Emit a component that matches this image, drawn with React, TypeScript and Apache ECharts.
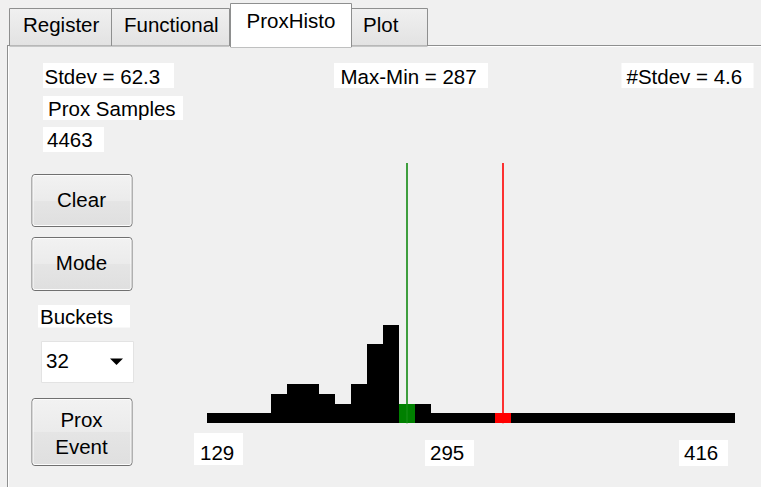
import React, { useEffect, useRef } from "react";
import * as echarts from "echarts";

// ---- data ----
const bucketNames = ["0","1","2","3","4","5","6","7","8","9","10","11","12","13","14","15","16","17","18","19","20","21","22","23","24","25","26","27","28","29","30","31","32"];
const bucketCounts = [0,0,0,0,273,420,420,273,133,420,990,1268,133,133,0,0,0,0,0,0,0,0,0,0,0,0,0,0,0,0,0,0,0];
const modeBucket = 12;
const markerBucket = 18;
const baseCount = 144;
const yMax = 3740;
const tickLabels = ["129", "295", "416"];
const tabNames = ["Register", "Functional", "ProxHisto", "Plot"];
const statTexts = ["Stdev = 62.3", "Max-Min = 287", "#Stdev = 4.6"];
const sampleLabel = "Prox Samples";
const sampleCount = "4463";
const bucketsLabel = "Buckets";
const bucketsSetting = "32";
const buttonLabels = ["Clear", "Mode", "Prox\nEvent"];

const FONT_FAMILY = '"Liberation Sans", Arial, sans-serif';
const FS = 20.5;
const font = `${FS}px ${FONT_FAMILY}`;

function txt(text: string, x: number, y: number, align: string = "left", z = 20) {
  return {
    type: "text",
    x,
    y,
    z,
    silent: true,
    style: { text, fill: "#000", font, textAlign: align, textVerticalAlign: "middle" },
  };
}

function whiteBox(x: number, y: number, w: number, h: number) {
  return { type: "rect", z: 15, silent: true, shape: { x, y, width: w, height: h }, style: { fill: "#ffffff" } };
}

function button(x: number, y: number, w: number, h: number, label: string, cy: number[]) {
  const els: any[] = [
    {
      type: "rect",
      z: 12,
      shape: { x: x + 0.5, y: y + 0.5, width: w, height: h, r: 3 },
      style: {
        fill: {
          type: "linear", x: 0, y: 0, x2: 0, y2: 1,
          colorStops: [
            { offset: 0, color: "#f2f2f2" },
            { offset: 0.5, color: "#ebebeb" },
            { offset: 0.5, color: "#e5e5e5" },
            { offset: 1, color: "#dfdfdf" },
          ],
        },
        stroke: "#707070",
        lineWidth: 1,
      },
    },
    {
      type: "rect",
      z: 13,
      shape: { x: x + 1.5, y: y + 1.5, width: w - 2, height: h - 2, r: 2 },
      style: { fill: "none", stroke: "#fcfcfc", lineWidth: 1 },
    },
  ];
  const lines = label.split("\n");
  lines.forEach((ln, i) => els.push(txt(ln, x + w / 2, cy[i], "center")));
  return els;
}

function tab(x: number, y: number, w: number, h: number, active: boolean) {
  return {
    type: "rect",
    z: active ? 9 : 8,
    shape: { x: x + 0.5, y: y + 0.5, width: w, height: h },
    style: {
      fill: active
        ? "#ffffff"
        : {
            type: "linear", x: 0, y: 0, x2: 0, y2: 1,
            colorStops: [
              { offset: 0, color: "#f0f0f0" },
              { offset: 1, color: "#e2e2e2" },
            ],
          },
      stroke: "#8e8f8f",
      lineWidth: 1,
    },
  };
}

function barColor(i: number, isBase: boolean) {
  if (i === modeBucket) return "#008000";
  if (isBase && i === markerBucket) return "#ff0000";
  return "#000000";
}

export default function App() {
  const ref = useRef<HTMLDivElement>(null);
  useEffect(() => {
    if (!ref.current) return;
    const chart = echarts.init(ref.current, undefined, { renderer: "svg" });

    const histData = bucketCounts.map((v, i) => [i, v]);

    const renderItem = (params: any, api: any) => {
      const i = api.value(0);
      const v = api.value(1);
      const bw = api.size([1, 0])[0];
      const c0 = api.coord([i, 0]);
      const cb = api.coord([i, baseCount]);
      const ct = api.coord([i, baseCount + v]);
      const x0 = Math.round(c0[0] - bw / 2);
      const x1 = Math.round(c0[0] + bw / 2);
      const y0 = Math.round(c0[1]);
      const yb = Math.round(cb[1]);
      const yt = Math.round(ct[1]);
      const children: any[] = [
        {
          type: "rect",
          shape: { x: x0, y: yb, width: x1 - x0, height: y0 - yb },
          style: { fill: barColor(i, true) },
        },
      ];
      if (v > 0) {
        children.push({
          type: "rect",
          shape: { x: x0, y: yt, width: x1 - x0, height: yb - yt + 0.5 },
          style: { fill: barColor(i, false) },
        });
      }
      return { type: "group", children };
    };

    const graphic: any[] = [];
    // panel frame
    graphic.push({ type: "line", z: 5, shape: { x1: 7.5, y1: 45.5, x2: 7.5, y2: 487 }, style: { stroke: "#8e8f8f", lineWidth: 1 } });
    graphic.push({ type: "line", z: 5, shape: { x1: 7, y1: 45.5, x2: 761, y2: 45.5 }, style: { stroke: "#8e8f8f", lineWidth: 1 } });
    graphic.push({ type: "line", z: 5, shape: { x1: 8.5, y1: 46.5, x2: 761, y2: 46.5 }, style: { stroke: "#ffffff", lineWidth: 1 } });
    graphic.push({ type: "line", z: 5, shape: { x1: 8.5, y1: 46.5, x2: 8.5, y2: 487 }, style: { stroke: "#ffffff", lineWidth: 1 } });

    // tabs
    const tabBoxes = [
      { x: 9, y: 8, w: 102, h: 37.5, tx: 23, ty: 24.5 },
      { x: 111, y: 8, w: 118, h: 37.5, tx: 124, ty: 24.5 },
      { x: 230, y: 3, w: 121, h: 43.5, tx: 246.5, ty: 20.5 },
      { x: 351, y: 8, w: 76, h: 37.5, tx: 363, ty: 24.5 },
    ];
    tabNames.forEach((name, i) => {
      const b = tabBoxes[i];
      const active = i === 2;
      graphic.push(tab(b.x, b.y, b.w, b.h, active));
      graphic.push(txt(name, b.tx, b.ty, "left", 21));
    });
    graphic.push({ type: "rect", z: 10, shape: { x: 231, y: 44, width: 120, height: 3 }, style: { fill: "#ffffff" } });

    // stat labels
    graphic.push(whiteBox(43, 63, 131, 25), txt(statTexts[0], 44.5, 76));
    graphic.push(whiteBox(334, 63, 154, 25), txt(statTexts[1], 340.5, 76));
    graphic.push(whiteBox(621.5, 63, 132, 25), txt(statTexts[2], 626.5, 76));
    graphic.push(whiteBox(43, 96, 140, 24), txt(sampleLabel, 48, 108));
    graphic.push(whiteBox(43, 127, 61, 25), txt(sampleCount, 47, 139.5));

    // buttons
    graphic.push(...button(31.5, 174, 100, 52, buttonLabels[0], [199.5]));
    graphic.push(...button(31.5, 237, 100, 53, buttonLabels[1], [262]));
    graphic.push(...button(31.5, 398, 100, 67, buttonLabels[2], [419, 446]));

    // buckets label & dropdown
    graphic.push(whiteBox(38, 305, 92, 22.5), txt(bucketsLabel, 40, 316.5));
    graphic.push({
      type: "rect", z: 14,
      shape: { x: 41.5, y: 341.5, width: 92, height: 41 },
      style: { fill: "#ffffff", stroke: "#e3e3e3", lineWidth: 1 },
    });
    graphic.push(txt(bucketsSetting, 46, 360.5));
    graphic.push({
      type: "polygon", z: 20,
      shape: { points: [[110, 358.5], [123, 358.5], [116.5, 365]] },
      style: { fill: "#000000" },
    });

    // x tick labels
    graphic.push(whiteBox(194, 433, 49, 32), txt(tickLabels[0], 200, 452.5));
    graphic.push(whiteBox(425, 440, 49, 26), txt(tickLabels[1], 430, 452.5));
    graphic.push(whiteBox(679, 440, 49, 26), txt(tickLabels[2], 684, 452.5));

    chart.setOption({
      animation: false,
      backgroundColor: "#f0f0f0",
      textStyle: { fontFamily: FONT_FAMILY },
      grid: { left: 206.7, right: 26.3, top: 163, bottom: 63.7, containLabel: false },
      xAxis: {
        type: "category",
        data: bucketNames,
        axisLine: { show: false },
        axisTick: { show: false },
        axisLabel: { show: false },
        splitLine: { show: false },
      },
      yAxis: {
        type: "value",
        min: 0,
        max: yMax,
        axisLine: { show: false },
        axisTick: { show: false },
        axisLabel: { show: false },
        splitLine: { show: false },
      },
      series: [
        {
          name: "counts",
          type: "custom",
          renderItem,
          encode: { x: 0, y: 1 },
          data: histData,
          silent: true,
          clip: false,
          markLine: {
            silent: true,
            symbol: "none",
            label: { show: false },
            z: 30,
            data: [
              { xAxis: bucketNames[modeBucket], lineStyle: { color: "#118a11", width: 1.6, type: "solid" } },
              { xAxis: bucketNames[markerBucket], lineStyle: { color: "#ff0000", width: 1.6, type: "solid" } },
            ],
          },
        },
      ],
      graphic,
    });
    return () => chart.dispose();
  }, []);

  return (
    <div
      ref={ref}
      style={{ position: "fixed", left: 0, top: 0, width: 761, height: 487, background: "#f0f0f0" }}
    />
  );
}
